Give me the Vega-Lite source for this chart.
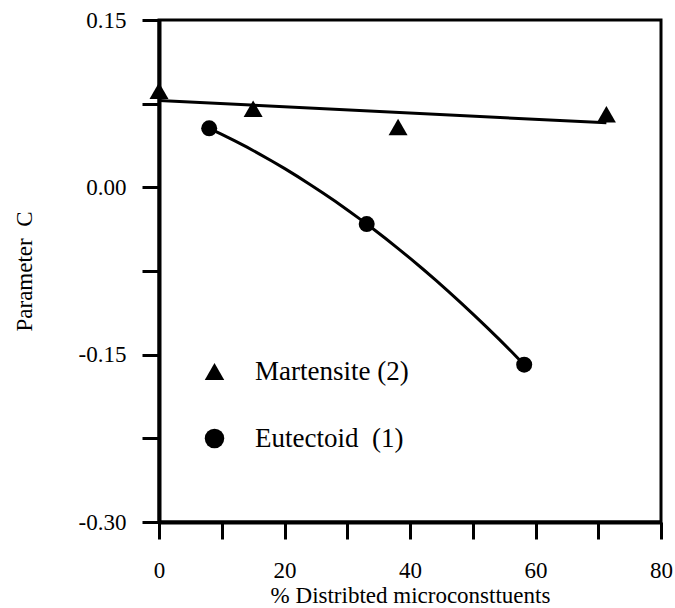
{
  "$schema": "https://vega.github.io/schema/vega-lite/v6.json",
  "width": 502,
  "height": 502,
  "autosize": {"type": "none"},
  "padding": {"left": 159, "top": 20, "right": 14, "bottom": 86},
  "background": "white",
  "config": {
    "view": {"stroke": "black", "strokeWidth": 3},
    "font": "Liberation Serif",
    "axis": {
      "grid": false,
      "domainColor": "black",
      "domainWidth": 4,
      "tickColor": "black",
      "tickWidth": 3,
      "tickSize": 17,
      "labelFont": "Liberation Serif",
      "labelFontSize": 23,
      "labelColor": "black",
      "labelFlush": false,
      "labelOverlap": false,
      "titleFont": "Liberation Serif",
      "titleFontSize": 23,
      "titleFontWeight": "normal",
      "titleColor": "black"
    },
    "legend": {
      "orient": "none",
      "legendX": 42,
      "legendY": 338,
      "padding": 0,
      "title": null,
      "symbolSize": 380,
      "symbolFillColor": "black",
      "symbolStrokeColor": "black",
      "symbolStrokeWidth": 0,
      "symbolOpacity": 1,
      "labelFont": "Liberation Serif",
      "labelFontSize": 27,
      "labelColor": "black",
      "labelOffset": 27,
      "rowPadding": 39,
      "labelLimit": 400
    }
  },
  "data": {
    "values": [
      {"series": "Martensite (2)", "x": 0, "y": 0.0865},
      {"series": "Martensite (2)", "x": 15, "y": 0.0705},
      {"series": "Martensite (2)", "x": 38.1, "y": 0.054},
      {"series": "Martensite (2)", "x": 71.3, "y": 0.0655},
      {"series": "Eutectoid\u00a0\u00a0(1)", "x": 8, "y": 0.0529},
      {"series": "Eutectoid\u00a0\u00a0(1)", "x": 33.1, "y": -0.0329},
      {"series": "Eutectoid\u00a0\u00a0(1)", "x": 58.2, "y": -0.159}
    ]
  },
  "encoding": {
    "x": {
      "field": "x",
      "type": "quantitative",
      "scale": {"domain": [0, 80], "nice": false, "zero": false},
      "axis": {
        "values": [0, 10, 20, 30, 40, 50, 60, 70, 80],
        "labelExpr": "datum.value % 20 === 0 ? datum.label : ''",
        "labelPadding": 20,
        "title": "% Distribted microconsttuents",
        "titlePadding": 2
      }
    },
    "y": {
      "field": "y",
      "type": "quantitative",
      "scale": {"domain": [-0.3, 0.15], "nice": false, "zero": false},
      "axis": {
        "values": [-0.3, -0.225, -0.15, -0.075, 0, 0.075, 0.15],
        "labelExpr": "datum.value == 0.15 ? '0.15' : datum.value == 0 ? '0.00' : datum.value == -0.15 ? '-0.15' : datum.value == -0.3 ? '-0.30' : ''",
        "labelPadding": 16,
        "title": "Parameter\u00a0\u00a0C",
        "titlePadding": 42
      }
    }
  },
  "layer": [
    {
      "transform": [
        {"filter": "datum.series == 'Martensite (2)'"},
        {"regression": "y", "on": "x"}
      ],
      "mark": {"type": "line", "color": "black", "strokeWidth": 3}
    },
    {
      "transform": [
        {"filter": "datum.series != 'Martensite (2)'"},
        {"regression": "y", "on": "x", "method": "poly", "order": 2}
      ],
      "mark": {"type": "line", "color": "black", "strokeWidth": 3}
    },
    {
      "transform": [{"filter": "datum.series == 'Martensite (2)'"}],
      "mark": {"type": "point", "filled": true, "opacity": 1, "color": "black", "size": 361},
      "encoding": {
        "shape": {
          "field": "series",
          "type": "nominal",
          "scale": {"domain": ["Martensite (2)", "Eutectoid\u00a0\u00a0(1)"], "range": ["triangle-up", "circle"]}
        }
      }
    },
    {
      "transform": [{"filter": "datum.series != 'Martensite (2)'"}],
      "mark": {"type": "point", "filled": true, "opacity": 1, "color": "black", "size": 256},
      "encoding": {
        "shape": {
          "field": "series",
          "type": "nominal",
          "scale": {"domain": ["Martensite (2)", "Eutectoid\u00a0\u00a0(1)"], "range": ["triangle-up", "circle"]}
        }
      }
    }
  ]
}
